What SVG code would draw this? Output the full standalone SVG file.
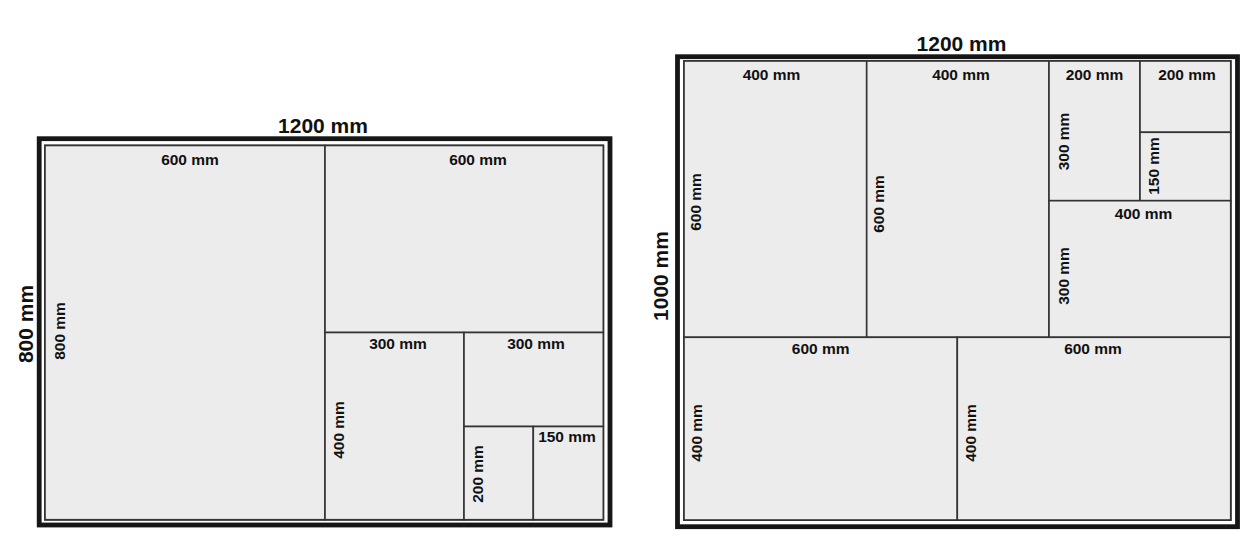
<svg xmlns="http://www.w3.org/2000/svg" width="1250" height="550" viewBox="0 0 1250 550">
<style>
.frame{fill:none;stroke:#161616;stroke-width:4.8}
.inner{fill:#ececec;stroke:#3a3a3a;stroke-width:2}
.cell{fill:#ececec;stroke:#333;stroke-width:1.6}
text{font-family:"Liberation Sans",Arial,sans-serif;font-weight:bold;fill:#111;text-anchor:middle}
.big{font-size:21px}
.lbl{font-size:15.5px}
</style>
<rect width="1250" height="550" fill="#fff"/>
<g id="left-panel">
  <rect class="frame" x="39.2" y="138.7" width="570.8" height="386.3"/>
  <rect class="inner" x="45" y="145.5" width="558.3" height="374.2"/>
  <g id="L-A"><rect class="cell" x="45" y="145.5" width="280" height="374.2"/>
    <text class="lbl" x="190" y="165">600 mm</text>
    <text class="lbl" transform="translate(65,331) rotate(-90)">800 mm</text></g>
  <g id="L-B"><rect class="cell" x="325" y="145.5" width="278.3" height="187"/>
    <text class="lbl" x="478" y="165">600 mm</text></g>
  <g id="L-C"><rect class="cell" x="325" y="332.5" width="139" height="187.2"/>
    <text class="lbl" x="398" y="349">300 mm</text>
    <text class="lbl" transform="translate(344,430) rotate(-90)">400 mm</text></g>
  <g id="L-D"><rect class="cell" x="464" y="332.5" width="139.3" height="94"/>
    <text class="lbl" x="536" y="349">300 mm</text></g>
  <g id="L-E"><rect class="cell" x="464" y="426.5" width="69.3" height="93.2"/>
    <text class="lbl" transform="translate(483,474) rotate(-90)">200 mm</text></g>
  <g id="L-F"><rect class="cell" x="533.3" y="426.5" width="70" height="93.2"/>
    <text class="lbl" x="567" y="442">150 mm</text></g>
  <text class="big" x="323" y="133">1200 mm</text>
  <text class="big" transform="translate(33,324) rotate(-90)">800 mm</text>
</g>
<g id="right-panel">
  <rect class="frame" x="677.5" y="56.7" width="560" height="470"/>
  <rect class="inner" x="684" y="61" width="546.7" height="459"/>
  <g id="R-A"><rect class="cell" x="684" y="61" width="182.7" height="276.3"/>
    <text class="lbl" x="771.5" y="80">400 mm</text>
    <text class="lbl" transform="translate(701,202) rotate(-90)">600 mm</text></g>
  <g id="R-B"><rect class="cell" x="866.7" y="61" width="182.3" height="276.3"/>
    <text class="lbl" x="961" y="80">400 mm</text>
    <text class="lbl" transform="translate(884,204) rotate(-90)">600 mm</text></g>
  <g id="R-C"><rect class="cell" x="1049" y="61" width="91" height="139.7"/>
    <text class="lbl" x="1094.5" y="80">200 mm</text>
    <text class="lbl" transform="translate(1069,141.5) rotate(-90)">300 mm</text></g>
  <g id="R-D"><rect class="cell" x="1140" y="61" width="90.7" height="71.3"/>
    <text class="lbl" x="1187" y="80">200 mm</text></g>
  <g id="R-E"><rect class="cell" x="1140" y="132.3" width="90.7" height="68.4"/>
    <text class="lbl" transform="translate(1159,166) rotate(-90)">150 mm</text></g>
  <g id="R-F"><rect class="cell" x="1049" y="200.7" width="181.7" height="136.6"/>
    <text class="lbl" x="1143.5" y="218.5">400 mm</text>
    <text class="lbl" transform="translate(1069,276) rotate(-90)">300 mm</text></g>
  <g id="R-G"><rect class="cell" x="684" y="337.3" width="273.3" height="182.7"/>
    <text class="lbl" x="820.7" y="353.5">600 mm</text>
    <text class="lbl" transform="translate(702,433) rotate(-90)">400 mm</text></g>
  <g id="R-H"><rect class="cell" x="957.3" y="337.3" width="273.4" height="182.7"/>
    <text class="lbl" x="1093" y="353.5">600 mm</text>
    <text class="lbl" transform="translate(976,433) rotate(-90)">400 mm</text></g>
  <text class="big" x="961.5" y="51">1200 mm</text>
  <text class="big" transform="translate(668,276) rotate(-90)">1000 mm</text>
</g>
<g id="connectors"/>
</svg>
